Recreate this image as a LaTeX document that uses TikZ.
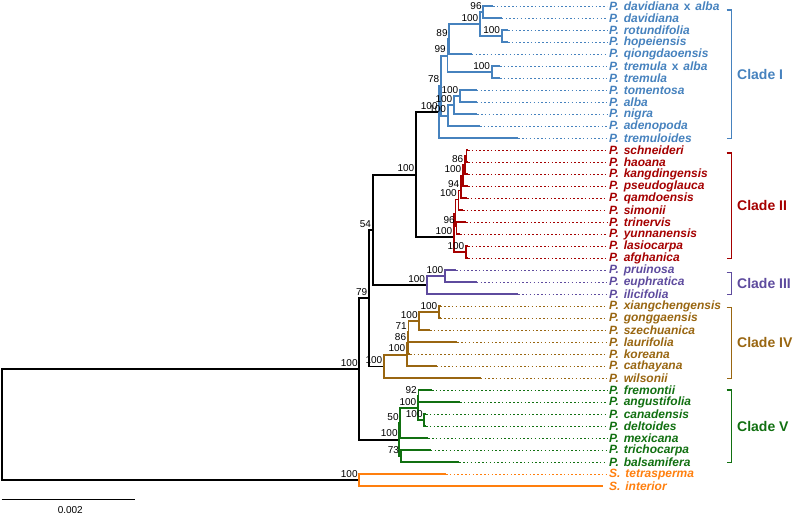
\documentclass[tikz,border=0pt]{standalone}
\usepackage{fontspec}
\setmainfont{Liberation Sans}
\usepackage{xcolor}
\usepackage{tikz}

\definecolor{cladeI}{RGB}{70,130,190}
\definecolor{cladeII}{RGB}{165,0,0}
\definecolor{cladeIII}{RGB}{94,75,158}
\definecolor{cladeIV}{RGB}{153,102,17}
\definecolor{cladeV}{RGB}{17,112,17}
\definecolor{outgrp}{RGB}{255,127,14}

\newcommand{\taxfont}{\fontsize{12}{12}\selectfont\bfseries\itshape\spaceskip=4.8pt\relax}

\begin{document}
\begin{tikzpicture}[x=1pt, y=-1pt,
    br/.style={line width=1.9pt},
    guide/.style={line width=0.9pt, dash pattern=on 1.5pt off 2.3pt},
    taxon/.style={anchor=west, inner sep=2pt, font=\taxfont},
    bs/.style={anchor=south east, inner sep=0pt, xshift=-1.5pt, yshift=2.6pt, font=\fontsize{10}{10}\selectfont},
    clade/.style={anchor=west, inner sep=0pt, font=\fontsize{14}{15}\selectfont\bfseries},
    brk/.style={line width=1.5pt}]

\useasboundingbox (0,0) rectangle (793,516);

% backbone nodes
\coordinate (root) at (2.3,424.65);
\coordinate (I) at (359.3,369);
\coordinate (A) at (369,298.25);
\coordinate (B) at (372.7,230);
\coordinate (C) at (416,174.7);
\coordinate (R0) at (359.3,480.3);

% clade I
\coordinate (R1) at (439.3,112.05);
\coordinate (N78) at (441,85.8);
\coordinate (N99) at (447.5,55.8);
\coordinate (N89) at (449.3,39.3);
\coordinate (D100) at (480,24.3);
\coordinate (N96) at (483.3,12.3);
\coordinate (NR) at (501.7,36.3);
\coordinate (TA) at (491.7,72.3);
\coordinate (Tn3) at (447.7,115.8);
\coordinate (Tn2) at (454,105.3);
\coordinate (Tn1) at (460,96.3);
% clade II
\coordinate (R2) at (454,237.3);
\coordinate (X2) at (455.5,213.5);
\coordinate (N100b) at (458.5,199.5);
\coordinate (N94) at (461,190.5);
\coordinate (N100a) at (463,175.8);
\coordinate (N86) at (465,165.3);
\coordinate (n0) at (466.5,156.3);
\coordinate (N96b) at (456.5,226.3);
\coordinate (F) at (466,252.3);
% clade III
\coordinate (R3) at (426.7,285.3);
\coordinate (D3) at (445,276.3);
% clade IV
\coordinate (R4) at (384,366.5);
\coordinate (N100c) at (407,354.675);
\coordinate (N86d) at (407.8,343.05);
\coordinate (N71) at (408.5,331.8);
\coordinate (N100d) at (419.3,321.3);
\coordinate (Pxg) at (439,312.3);
% clade V
\coordinate (R5) at (399.3,439.8);
\coordinate (N50) at (400.3,423.3);
\coordinate (N100e) at (418,408.3);
\coordinate (N92) at (418.5,396.3);
\coordinate (Ncd) at (424.3,420.3);
\coordinate (N73) at (400.7,456.3);

% branch ends
\coordinate (e0) at (493,6.3);
\coordinate (e1) at (501.7,18.3);
\coordinate (e2) at (508,30.3);
\coordinate (e3) at (508,42.3);
\coordinate (e4) at (471.7,54.3);
\coordinate (e5) at (500,66.3);
\coordinate (e6) at (500,78.3);
\coordinate (e7) at (476.7,90.3);
\coordinate (e8) at (476.7,102.3);
\coordinate (e9) at (477.3,114.3);
\coordinate (e10) at (480,126.3);
\coordinate (e11) at (518.3,138.3);
\coordinate (e12) at (468,150.3);
\coordinate (e13) at (468,162.3);
\coordinate (e14) at (468,174.3);
\coordinate (e15) at (468,186.3);
\coordinate (e16) at (467,198.3);
\coordinate (e17) at (463,210.3);
\coordinate (e18) at (466,222.3);
\coordinate (e19) at (460,234.3);
\coordinate (e20) at (468,246.3);
\coordinate (e21) at (468,258.3);
\coordinate (e22) at (456,270.3);
\coordinate (e23) at (476.7,282.3);
\coordinate (e24) at (518.3,294.3);
\coordinate (e25) at (440.5,306.3);
\coordinate (e26) at (440.5,318.3);
\coordinate (e27) at (430,330.3);
\coordinate (e28) at (457.3,342.3);
\coordinate (e29) at (410,354.3);
\coordinate (e30) at (436.7,366.3);
\coordinate (e31) at (480.7,378.3);
\coordinate (e32) at (432,390.3);
\coordinate (e33) at (460,402.3);
\coordinate (e34) at (426,414.3);
\coordinate (e35) at (426,426.3);
\coordinate (e36) at (428.3,438.3);
\coordinate (e37) at (430.7,450.3);
\coordinate (e38) at (459.3,462.3);
\coordinate (e39) at (446,474.3);
\coordinate (e40) at (603,486.3);

% branches
\draw[br] (root) |- (I) (root) |- (R0); % root
\draw[br] (I) |- (A) (I) |- (R5);
\draw[br] (A) |- (B) (A) |- (R4);
\draw[br] (B) |- (C) (B) |- (R3);
\draw[br] (C) |- (R1) (C) |- (R2);

\draw[br, cladeI] (R1) |- (N78) (R1) |- (e11)
    (N78) |- (N99) (N78) |- (Tn3)
    (N99) |- (N89) (N99) |- (TA)
    (N89) |- (D100) (N89) |- (e4)
    (D100) |- (N96) (D100) |- (NR)
    (N96) |- (e0) (N96) |- (e1)
    (NR) |- (e2) (NR) |- (e3)
    (TA) |- (e5) (TA) |- (e6)
    (Tn3) |- (Tn2) (Tn3) |- (e10)
    (Tn2) |- (Tn1) (Tn2) |- (e9)
    (Tn1) |- (e7) (Tn1) |- (e8);

\draw[br, cladeII] (R2) |- (X2) (R2) |- (F)
    (X2) |- (N100b) (X2) |- (N96b)
    (N100b) |- (N94) (N100b) |- (e17)
    (N94) |- (N100a) (N94) |- (e16)
    (N100a) |- (N86) (N100a) |- (e15)
    (N86) |- (n0) (N86) |- (e14)
    (n0) |- (e12) (n0) |- (e13)
    (N96b) |- (e18) (N96b) |- (e19)
    (F) |- (e20) (F) |- (e21);

\draw[br, cladeIII] (R3) |- (D3) (R3) |- (e24)
    (D3) |- (e22) (D3) |- (e23);

\draw[br, cladeIV] (R4) |- (N100c) (R4) |- (e31)
    (N100c) |- (N86d) (N100c) |- (e30)
    (N86d) |- (N71) (N86d) |- (e29)
    (N71) |- (N100d) (N71) |- (e28)
    (N100d) |- (Pxg) (N100d) |- (e27)
    (Pxg) |- (e25) (Pxg) |- (e26);

\draw[br, cladeV] (R5) |- (N50) (R5) |- (N73)
    (N50) |- (N100e) (N50) |- (e36)
    (N100e) |- (N92) (N100e) |- (Ncd)
    (N92) |- (e32) (N92) |- (e33)
    (Ncd) |- (e34) (Ncd) |- (e35)
    (N73) |- (e37) (N73) |- (e38);

\draw[br, outgrp] (R0) |- (e39) (R0) |- (e40);

% support values
\node[bs] (s-I) at (I) {100};
\node[bs] (s-A) at (A) {79};
\node[bs] (s-B) at (B) {54};
\node[bs] (s-C) at (C) {100};
\node[bs] (s-R0) at (R0) {100};
\node[bs] (s-R1) at (R1) {100};
\node[bs] (s-N78) at (N78) {78};
\node[bs] (s-N99) at (N99) {99};
\node[bs] (s-N89) at (N89) {89};
\node[bs] (s-D100) at (D100) {100};
\node[bs] (s-N96) at (N96) {96};
\node[bs] (s-NR) at (NR) {100};
\node[bs] (s-TA) at (TA) {100};
\node[bs] (s-Tn1) at (Tn1) {100};
\node[bs] (s-Tn2) at (Tn2) {100};
\node[bs] (s-Tn3) at (Tn3) {100};
\node[bs] (s-R2) at (R2) {100};
\node[bs] (s-N100b) at (N100b) {100};
\node[bs] (s-N94) at (N94) {94};
\node[bs] (s-N100a) at (N100a) {100};
\node[bs] (s-N86) at (N86) {86};
\node[bs] (s-N96b) at (N96b) {96};
\node[bs] (s-F) at (F) {100};
\node[bs] (s-R3) at (R3) {100};
\node[bs] (s-D3) at (D3) {100};
\node[bs] (s-R4) at (R4) {100};
\node[bs] (s-N100c) at (N100c) {100};
\node[bs] (s-N86d) at (N86d) {86};
\node[bs] (s-N71) at (N71) {71};
\node[bs] (s-N100d) at (N100d) {100};
\node[bs] (s-Pxg) at (Pxg) {100};
\node[bs] (s-R5) at (R5) {100};
\node[bs] (s-N50) at (N50) {50};
\node[bs] (s-N100e) at (N100e) {100};
\node[bs] (s-N92) at (N92) {92};
\node[bs] (s-Ncd) at (Ncd) {100};
\node[bs] (s-N73) at (N73) {73};

% taxa
\node[taxon, text=cladeI] (t0) at (607,6.3) {P. davidiana \textup{x} alba};
\node[taxon, text=cladeI] (t1) at (607,18.3) {P. davidiana};
\node[taxon, text=cladeI] (t2) at (607,30.3) {P. rotundifolia};
\node[taxon, text=cladeI] (t3) at (607,42.3) {P. hopeiensis};
\node[taxon, text=cladeI] (t4) at (607,54.3) {P. qiongdaoensis};
\node[taxon, text=cladeI] (t5) at (607,66.3) {P. tremula \textup{x} alba};
\node[taxon, text=cladeI] (t6) at (607,78.3) {P. tremula};
\node[taxon, text=cladeI] (t7) at (607,90.3) {P. tomentosa};
\node[taxon, text=cladeI] (t8) at (607,102.3) {P. alba};
\node[taxon, text=cladeI] (t9) at (607,114.3) {P. nigra};
\node[taxon, text=cladeI] (t10) at (607,126.3) {P. adenopoda};
\node[taxon, text=cladeI] (t11) at (607,138.3) {P. tremuloides};
\node[taxon, text=cladeII] (t12) at (607,150.3) {P. schneideri};
\node[taxon, text=cladeII] (t13) at (607,162.3) {P. haoana};
\node[taxon, text=cladeII] (t14) at (607,174.3) {P. kangdingensis};
\node[taxon, text=cladeII] (t15) at (607,186.3) {P. pseudoglauca};
\node[taxon, text=cladeII] (t16) at (607,198.3) {P. qamdoensis};
\node[taxon, text=cladeII] (t17) at (607,210.3) {P. simonii};
\node[taxon, text=cladeII] (t18) at (607,222.3) {P. trinervis};
\node[taxon, text=cladeII] (t19) at (607,234.3) {P. yunnanensis};
\node[taxon, text=cladeII] (t20) at (607,246.3) {P. lasiocarpa};
\node[taxon, text=cladeII] (t21) at (607,258.3) {P. afghanica};
\node[taxon, text=cladeIII] (t22) at (607,270.3) {P. pruinosa};
\node[taxon, text=cladeIII] (t23) at (607,282.3) {P. euphratica};
\node[taxon, text=cladeIII] (t24) at (607,294.3) {P. ilicifolia};
\node[taxon, text=cladeIV] (t25) at (607,306.3) {P. xiangchengensis};
\node[taxon, text=cladeIV] (t26) at (607,318.3) {P. gonggaensis};
\node[taxon, text=cladeIV] (t27) at (607,330.3) {P. szechuanica};
\node[taxon, text=cladeIV] (t28) at (607,342.3) {P. laurifolia};
\node[taxon, text=cladeIV] (t29) at (607,354.3) {P. koreana};
\node[taxon, text=cladeIV] (t30) at (607,366.3) {P. cathayana};
\node[taxon, text=cladeIV] (t31) at (607,378.3) {P. wilsonii};
\node[taxon, text=cladeV] (t32) at (607,390.3) {P. fremontii};
\node[taxon, text=cladeV] (t33) at (607,402.3) {P. angustifolia};
\node[taxon, text=cladeV] (t34) at (607,414.3) {P. canadensis};
\node[taxon, text=cladeV] (t35) at (607,426.3) {P. deltoides};
\node[taxon, text=cladeV] (t36) at (607,438.3) {P. mexicana};
\node[taxon, text=cladeV] (t37) at (607,450.3) {P. trichocarpa};
\node[taxon, text=cladeV] (t38) at (607,462.3) {P. balsamifera};
\node[taxon, text=outgrp] (t39) at (607,474.3) {S. tetrasperma};
\node[taxon, text=outgrp] (t40) at (607,486.3) {S. interior};

% dotted guides
\draw[guide, cladeI] (e0) -- (t0) (e1) -- (t1) (e2) -- (t2) (e3) -- (t3)
    (e4) -- (t4) (e5) -- (t5) (e6) -- (t6) (e7) -- (t7) (e8) -- (t8)
    (e9) -- (t9) (e10) -- (t10) (e11) -- (t11);
\draw[guide, cladeII] (e12) -- (t12) (e13) -- (t13) (e14) -- (t14)
    (e15) -- (t15) (e16) -- (t16) (e17) -- (t17) (e18) -- (t18)
    (e19) -- (t19) (e20) -- (t20) (e21) -- (t21);
\draw[guide, cladeIII] (e22) -- (t22) (e23) -- (t23) (e24) -- (t24);
\draw[guide, cladeIV] (e25) -- (t25) (e26) -- (t26) (e27) -- (t27)
    (e28) -- (t28) (e29) -- (t29) (e30) -- (t30) (e31) -- (t31);
\draw[guide, cladeV] (e32) -- (t32) (e33) -- (t33) (e34) -- (t34)
    (e35) -- (t35) (e36) -- (t36) (e37) -- (t37) (e38) -- (t38);
\draw[guide, outgrp] (e39) -- (t39);

% clade brackets
\draw[brk, cladeI] (726.7,10) -- (731.7,10) -- (731.7,138.3) -- (726.7,138.3);
\node[clade, text=cladeI] (c1) at (737,74.2) {Clade I};
\draw[brk, cladeII] (726.7,153) -- (731.7,153) -- (731.7,258.3) -- (726.7,258.3);
\node[clade, text=cladeII] (c2) at (737,205.6) {Clade II};
\draw[brk, cladeIII] (726.7,272.7) -- (731.7,272.7) -- (731.7,294.3) -- (726.7,294.3);
\node[clade, text=cladeIII] (c3) at (737,283.5) {Clade III};
\draw[brk, cladeIV] (726.7,307.3) -- (731.7,307.3) -- (731.7,378.3) -- (726.7,378.3);
\node[clade, text=cladeIV] (c4) at (737,342.8) {Clade IV};
\draw[brk, cladeV] (726.7,390) -- (731.7,390) -- (731.7,462.3) -- (726.7,462.3);
\node[clade, text=cladeV] (c5) at (737,426.2) {Clade V};

% scale bar
\draw[line width=1.5pt] (1.7,499.3) -- (135,499.3);
\node[font=\fontsize{10}{10}\selectfont] (scl) at (70.3,510.3) {0.002};
\end{tikzpicture}
\end{document}
